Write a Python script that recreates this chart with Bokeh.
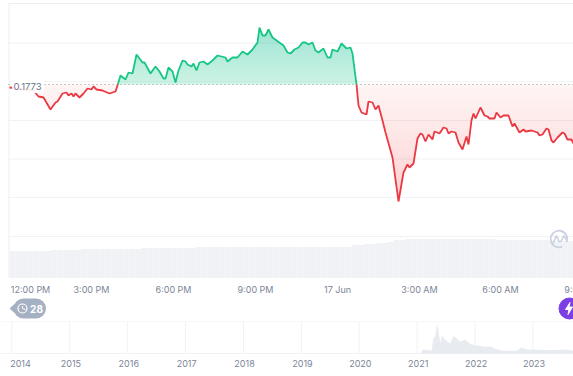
import numpy as np
from bokeh.plotting import figure
from bokeh.layouts import column
from bokeh.models import Range1d
from bokeh.embed import file_html
from bokeh.resources import INLINE
from bokeh.core.properties import value

# --- data (time index: one unit is about 2.2 minutes; price in 1/10000 USD)
time_idx = [9,33,38,43,50,55,57,62,66,68,71,73,75,79,83,87,91,93,96,102,109,115,117,120,125,128,132,136,142,144,150,155,159,163,165,168,172,175,178,182,185,187,191,193,196,199,203,207,212,217,225,227,232,237,242,247,252,257,259,262,265,268,272,283,287,290,294,298,302,305,308,312,315,318,323,327,330,332,337,341,346,350,352,356,358,361,366,368,372,375,378,382,385,392,398,403,407,409,413,417,420,422,425,428,432,434,439,443,446,448,451,455,458,462,466,468,471,473,475,480,484,487,489,494,496,500,503,508,512,514,519,523,525,531,537,539,542,546,548,551,553,557,562,564,567,571,573]
price = [1770,1767,1761,1760,1748,1755,1756,1764,1765,1762,1764,1761,1764,1760,1764,1769,1768,1771,1768,1767,1764,1766,1772,1782,1778,1785,1784,1803,1795,1795,1784,1791,1786,1779,1779,1790,1786,1775,1787,1797,1796,1793,1791,1794,1787,1795,1796,1793,1797,1802,1800,1796,1800,1800,1806,1803,1808,1815,1830,1822,1822,1828,1820,1812,1805,1804,1808,1810,1815,1815,1813,1815,1807,1805,1809,1800,1800,1808,1806,1814,1809,1810,1804,1773,1752,1745,1743,1756,1755,1748,1752,1737,1725,1700,1656,1685,1693,1690,1694,1719,1724,1723,1716,1723,1718,1726,1724,1730,1729,1724,1726,1725,1715,1708,1721,1713,1737,1744,1739,1750,1742,1741,1739,1739,1745,1740,1742,1742,1731,1734,1725,1728,1726,1727,1725,1722,1723,1729,1728,1717,1715,1720,1725,1724,1718,1718,1714]
base_price = 1773
base_label = "0.1773"
grid_prices = [1814.5, 1776, 1737, 1698.5, 1660, 1621]
volume = [26,26,26,26,26,26,26,27,27,27,27,27,28,28,28,28,28,28,28,28,28,28,29,29,29,29,29,29,29,29,29,30,30,30,30,30,30,30,30,30,30,30,30,30,30,30,30,30,30,30,30,30,30,30,30,30,30,32,32,33,33,34,34,35,37,37,38,38,38,38,38,38,38,38,38,38,38,38,38,38,38,37,37,37,37,37,37,37,37,37,36,36,36,36]
time_ticks = [30, 91, 173, 255, 337, 419, 500, 582]
time_labels = ["12:00 PM", "3:00 PM", "6:00 PM", "9:00 PM", "17 Jun", "3:00 AM", "6:00 AM", "9:00 AM"]
years = [2014,2015,2016,2017,2018,2019,2020,2021,2022,2023]
nav_year = [2021.06,2021.10,2021.25,2021.28,2021.31,2021.34,2021.37,2021.40,2021.43,2021.49,2021.57,2021.63,2021.69,2021.74,2021.83,2021.92,2022.03,2022.15,2022.26,2022.38,2022.49,2022.72,2022.81,2022.89,2023.01,2023.30,2023.59,2023.70]
nav_value = [0,4,2.7,15,16.7,29,23.3,10,18.3,13.3,10,17.3,15,11.7,14,9.3,8.3,6.7,7,4,2.7,2.7,6,4,4,3.3,4,2.7]
badge_count = "28"

GREEN, RED = "#16c784", "#ea3943"
GRID, TXT = "#f1f2f4", "#7b8597"
FONT = "Inter"
W = 573

def base_fig(h, xr, yr):
    f = figure(width=W, height=h, x_range=xr, y_range=yr, output_backend="svg",
               toolbar_location=None, min_border=0, min_border_left=0, min_border_right=0,
               min_border_top=0, min_border_bottom=0, x_axis_location=None, y_axis_location=None)
    f.grid.visible = False
    f.outline_line_color = None
    return f

# insert baseline crossings so the colours change exactly on the baseline
t2, p2 = [time_idx[0]], [float(price[0])]
for i in range(1, len(price)):
    a, b_ = price[i-1] - base_price, price[i] - base_price
    if a * b_ < 0:
        t2.append(time_idx[i-1] + (time_idx[i]-time_idx[i-1]) * (-a) / (b_-a))
        p2.append(float(base_price))
    t2.append(time_idx[i]); p2.append(float(price[i]))
t2, p2 = np.array(t2), np.array(p2)

# ---------- main panel
p = base_fig(296, Range1d(0, 573), Range1d(1561, 1857))
p.extra_y_ranges = {"vol": Range1d(-19, 277)}
for g in grid_prices:
    p.line([8, 573], [g, g], line_color=GRID, line_width=1)
p.line([8.5, 8.5], [1580, 1854], line_color="#eceef1", line_width=1)
p.line([8.5, 573], [1854, 1854], line_color="#eceef1", line_width=1)

p.vbar(x=[12 + 6*i for i in range(len(volume))], top=volume, bottom=0, width=5.2,
       color="#f0f2f5", y_range_name="vol")

# area fills: stacked translucent layers make the vertical gradient
up = np.maximum(p2, base_price)
dn = np.minimum(p2, base_price)
base_arr = np.full_like(p2, base_price)
p.varea(x=t2, y1=base_arr, y2=up, fill_color=GREEN, fill_alpha=0.22)
p.varea(x=t2, y1=base_arr, y2=dn, fill_color=RED, fill_alpha=0.05)
for lv in np.linspace(base_price + 3, up.max(), 16):
    p.varea(x=t2, y1=np.minimum(up, lv), y2=up, fill_color=GREEN, fill_alpha=0.012)
for lv in np.linspace(base_price - 3, dn.min(), 18):
    p.varea(x=t2, y1=np.maximum(dn, lv), y2=dn, fill_color=RED, fill_alpha=0.012)

p.line([8, 573], [base_price, base_price], line_color="#9a9a9a", line_width=1, line_dash="1 3")
p.line(t2, np.where(p2 >= base_price, p2, np.nan), line_color=GREEN, line_width=1.8)
p.line(t2, np.where(p2 <= base_price, p2, np.nan), line_color=RED, line_width=1.8)

p.rect([27.5], [base_price - 1.5], width=31, height=13, color="white", alpha=0.92)
p.text([13], [base_price - 1.5], text=[base_label], text_font=value(FONT), text_font_size="9.5px",
       text_color="#6c7689", text_baseline="middle")

# logo watermark
p.arc([558.5], [1857-238.5], radius=8.3, start_angle=5.9, end_angle=5.1, direction="anticlock",
      line_color="#ccd3e2", line_width=1.8)
p.line([552.5, 556, 558.5, 560.5, 563.5, 566], [1857-243, 1857-235, 1857-241, 1857-241, 1857-235, 1857-240],
       line_color="#ccd3e2", line_width=1.6)

p.text(time_ticks, [1568]*len(time_ticks), text=time_labels, text_font=value(FONT), text_font_size="9px",
       text_color=TXT, text_align="center", text_baseline="middle")

# ---------- badge strip
b = base_fig(25, Range1d(0, 573), Range1d(321, 296))
b.line([23, 35.5], [308, 308], line_color="#a6b0c3", line_width=20, line_cap="round")
b.patch([9.5, 14, 14], [308, 304, 312], color="#a6b0c3")
b.scatter([22], [308], size=9, marker="circle", fill_color=None, line_color="white", line_width=1.2)
b.line([22, 22, 25], [305.5, 308, 309], line_color="white", line_width=1)
b.text([36], [308.5], text=[badge_count], text_color="white", text_font_size="10px",
       text_font_style="bold", text_align="center", text_baseline="middle", text_font=value(FONT))
b.scatter([569], [308], size=21, marker="circle", color="#7b3fe4")
b.patch([569.5, 565, 568.5, 567.5, 572, 568.5], [302, 309, 309, 314, 306.5, 306.5], color="white")

# ---------- navigator
px_per_year = 57.9
n = base_fig(55, Range1d(2014 + (0-11.3)/px_per_year, 2014 + (573-11.3)/px_per_year), Range1d(-23, 32))
n.line([n.x_range.start, n.x_range.end], [32, 32], line_color=GRID, line_width=1)
n.line([n.x_range.start, n.x_range.end], [0, 0], line_color=GRID, line_width=1)
n.segment(x0=years, x1=years, y0=[0]*len(years), y1=[32]*len(years), line_color=GRID, line_width=1)
n.varea(x=nav_year, y1=[0]*len(nav_year), y2=nav_value, fill_color="#e8ebf0")
tick_pos = [y + (0.15 if y == 2014 else 0.02) for y in years]
n.text(tick_pos, [-9.5]*len(years), text=[str(y) for y in years], text_color=TXT, text_font_size="9px",
       text_align="center", text_baseline="middle", text_font=value(FONT))

page = column(p, b, n, spacing=0)
open("out.html", "w").write(file_html(page, INLINE))
